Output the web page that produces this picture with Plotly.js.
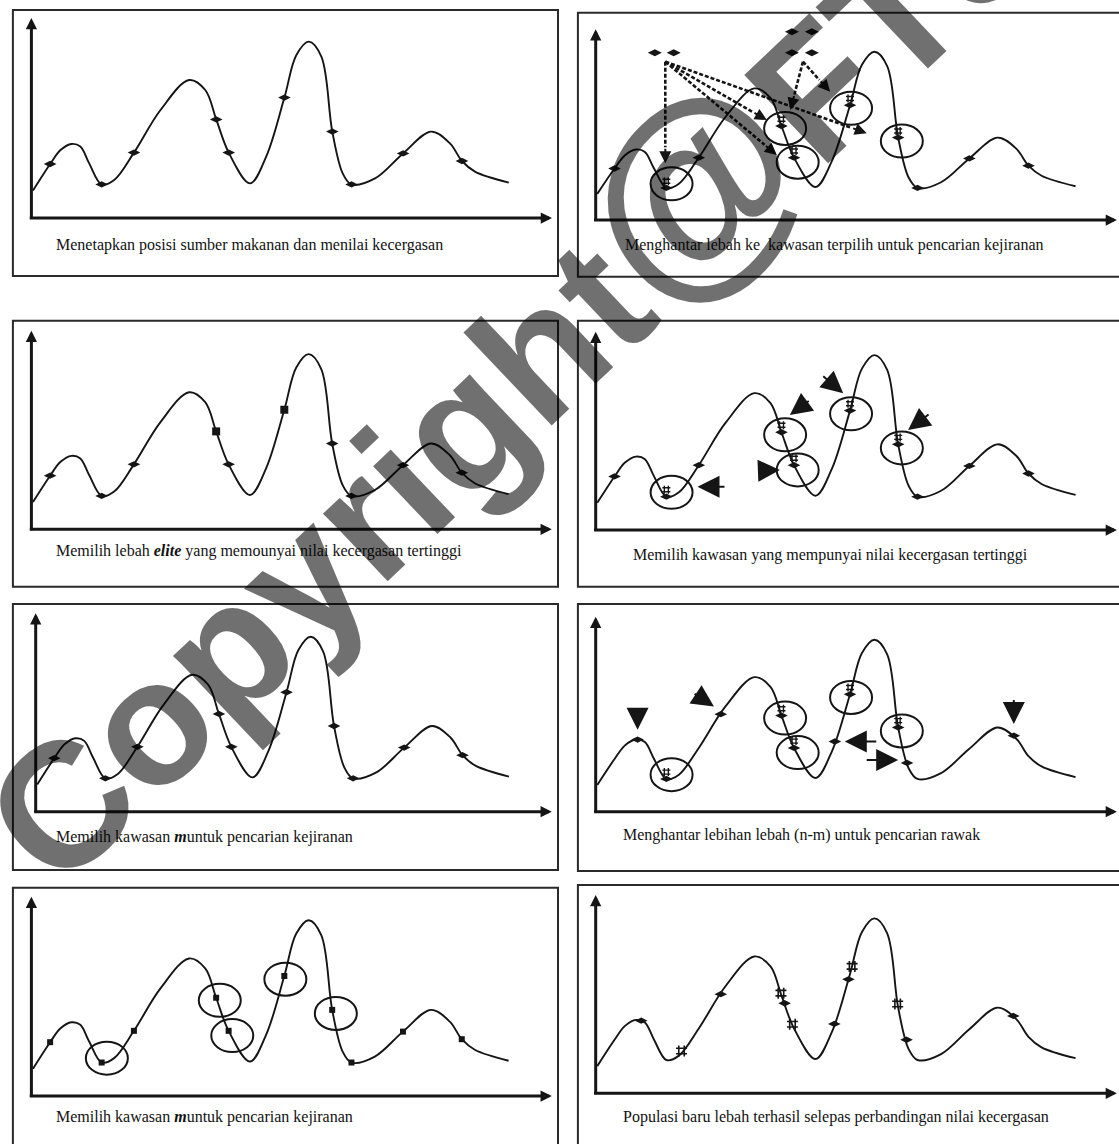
<!DOCTYPE html>
<html>
<head>
<meta charset="utf-8">
<script src="https://cdn.plot.ly/plotly-3.0.1.min.js"></script>
<style>html,body{margin:0;padding:0;background:#fff;}#chart{width:1119px;height:1144px;}</style>
</head>
<body>
<div id="chart"></div>
<script>
// ---------- data (axis units 0..100) ----------
const curveX = [0.3,3.6,5.6,7.7,9.4,11.1,13.5,15.9,19.7,24.8,30.3,33.4,35.5,37.9,42,45.1,48.6,50.9,53.3,55.7,57.8,59.8,61.5,66,71.4,76.8,80.4,82.7,85.2,91.7];
const curveY = [13.7,27,34,37,35.7,27.3,16.8,19,32.7,54,69,64,49.3,32.7,17.3,30.7,60.2,81.5,88.2,80.7,43.2,22.3,16.8,19.8,32.3,43.2,37.3,28.5,23.2,17.7];

const beeX = [3.6,13.5,19.7,35.5,37.9,48.6,57.8,61.5,71.4,82.7];
const beeY = [27,16.8,32.7,49.3,32.7,60.2,43.2,16.8,32.3,28.5];
const siteBees = [1,3,4,5,6];        // bees lying inside the selected sites
const eliteBees = [3,5];
const siteX = [14.5,36.2,38.6,48.8,58.5];
const siteY = [19,48,30.3,58.6,41.4];

const scoutX = [11.3,14.9,37.5,41.3,37.5,41.3];
const scoutY = [87.7,87.7,98.7,98.7,87.7,87.7];
const p2FromX = [13.3,13.3,13.3,13.3,39.6,39.6];
const p2FromY = [83,83,83,83,83,83];
const p2ToX = [13.3,32.7,34.6,51.8,37.2,44.8];
const p2ToY = [29.7,52.4,34.1,45.5,57.7,67.3];

const p4TipX = [19.45,37.1,35.2,47.3,59.7];
const p4TipY = [21.8,58.0,30.3,68.9,50.4];
const p4TailX = [24.9,41.0,31.3,43.2,63.9];
const p4TailY = [21.8,65.6,29.9,78.2,58.8];

const p6ScoutX = [8.0,23.9,45.7,59.5,79.9];
const p6ScoutY = [37,50,36,25,39];
const p6TipX = [8.0,22.6,47.6,57.8,79.9];
const p6TipY = [42,54,36,26.5,45];
const p6TailX = [8.0,18.6,53.9,51.5,79.9];
const p6TailY = [54,61,36,26.5,58];

const p8BeeX = [8.7,23.9,36.1,45.6,48.3,59.4,79.8];
const p8BeeY = [36.6,50,45.4,35,57.5,27,39];
const p8CrossX = [16.4,35.4,37.6,49.0,57.7];
const p8CrossY = [21.3,50.5,34.8,64,45];

const captions = [
  "Menetapkan posisi sumber makanan dan menilai kecergasan",
  "Menghantar lebah ke\u00a0 kawasan terpilih untuk pencarian kejiranan",
  "Memilih lebah <b><i>elite</i></b> yang memounyai nilai kecergasan tertinggi",
  "Memilih kawasan yang mempunyai nilai kecergasan tertinggi",
  "Memilih kawasan <b><i>m</i></b>untuk pencarian kejiranan",
  "Menghantar lebihan lebah (n-m) untuk pencarian rawak",
  "Memilih kawasan <b><i>m</i></b>untuk pencarian kejiranan",
  "Populasi baru lebah terhasil selepas perbandingan nilai kecergasan"
];
const watermarkText = "Copyright<span style=\"font-size:220px\">@</span>FTSM";

// ---------- layout geometry (pixels) ----------
const W = 1119, H = 1144;
const geo = [
  {x0:31.4, x1:552,  y0:218,   y1:18},
  {x0:595.7,x1:1119, y0:220,   y1:29.3},
  {x0:31.4, x1:551.8,y0:529.3, y1:330.7},
  {x0:595.7,x1:1119, y0:530,   y1:331.7},
  {x0:35.7, x1:551.8,y0:811.7, y1:613.3},
  {x0:595.7,x1:1119, y0:811.7, y1:616.7},
  {x0:31.4, x1:551.8,y0:1096,  y1:896.7},
  {x0:595.7,x1:1119, y0:1093.3,y1:895}
];
const boxes = [[12.9,10,558,276],[577.9,12.7,1135,276.7],[12.9,320.7,558,586.7],[577.9,320.7,1135,586.7],
               [12.9,604,558,870],[577.9,604,1135,871],[12.9,887.7,558,1160],[577.9,885,1135,1160]];
const capPos = [[53.6,245],[622.5,245],[53.6,550.5],[631.4,555],[53.6,837],[620.8,835],[53.6,1116.5],[620.7,1116.5]];

const INK = '#151515';
const layout = {width:W, height:H, margin:{l:0,r:0,t:0,b:0}, showlegend:false,
  paper_bgcolor:'#fff', plot_bgcolor:'rgba(0,0,0,0)', shapes:[], annotations:[]};
const traces = [];
const scale = [];

geo.forEach((g,i)=>{
  const id = i===0 ? '' : String(i+1);
  const xs = (g.x1-g.x0)/100, ys = (g.y0-g.y1)/100;
  scale.push({xs, ys});
  const pxL = g.x0-8, pxR = Math.min(g.x1+8, W), pyB = g.y0+8, pyT = Math.max(g.y1-8, 0);
  layout['xaxis'+id] = {domain:[pxL/W, pxR/W], range:[(pxL-g.x0)/xs, (pxR-g.x0)/xs], visible:false, fixedrange:true, anchor:'y'+id};
  layout['yaxis'+id] = {domain:[1-pyB/H, 1-pyT/H], range:[(g.y0-pyB)/ys, (g.y0-pyT)/ys], visible:false, fixedrange:true, anchor:'x'+id};
  const b = boxes[i];
  layout.shapes.push({type:'rect', xref:'paper', yref:'paper', x0:b[0]/W, x1:b[2]/W, y0:1-b[1]/H, y1:1-b[3]/H,
    line:{color:'#2a2a2a', width:2}, fillcolor:'rgba(0,0,0,0)'});
  const xr = 'x'+id, yr = 'y'+id;
  const tipX = g.x1 >= W ? 99.6 : 100;
  layout.annotations.push({xref:xr, yref:yr, axref:xr, ayref:yr, x:tipX, y:0, ax:-0.6, ay:0, text:'', showarrow:true,
    arrowhead:2, arrowsize:0.75, arrowwidth:3, arrowcolor:INK});
  layout.annotations.push({xref:xr, yref:yr, axref:xr, ayref:yr, x:0, y:100, ax:0, ay:-1.2, text:'', showarrow:true,
    arrowhead:2, arrowsize:0.75, arrowwidth:3, arrowcolor:INK});
  traces.push({x:curveX, y:curveY, xaxis:xr, yaxis:yr, mode:'lines', hoverinfo:'skip',
    line:{shape:'spline', smoothing:1, width:1.9, color:INK}});
  layout.annotations.push({xref:'paper', yref:'paper', x:capPos[i][0]/W, y:1-capPos[i][1]/H, xanchor:'left', yanchor:'middle',
    text:captions[i], showarrow:false, font:{family:'Liberation Serif, Times New Roman, serif', size:16, color:'#111'}});
});

const beeMarker = {symbol:'diamond-wide', size:9, color:INK};
const hashMarker = {symbol:'hash-open', size:8, color:INK, line:{color:INK, width:1.4}};
function ax(i){ const id = i===0?'':String(i+1); return {xaxis:'x'+id, yaxis:'y'+id, xr:'x'+id, yr:'y'+id}; }
function pts(i, xsArr, ysArr, marker){
  const a = ax(i);
  traces.push({x:xsArr, y:ysArr, xaxis:a.xaxis, yaxis:a.yaxis, mode:'markers', hoverinfo:'skip', marker:marker, cliponaxis:false});
}
function pick(arr, idx){ return idx.map(k=>arr[k]); }
const outside = beeX.map((_,k)=>k).filter(k=>siteBees.indexOf(k)<0);
const plain = beeX.map((_,k)=>k).filter(k=>eliteBees.indexOf(k)<0);

function circles(i){
  const a = ax(i), s = scale[i];
  const rx = 21/s.xs, ry = 16.5/s.ys;
  siteX.forEach((cx,k)=>{
    layout.shapes.push({type:'circle', xref:a.xr, yref:a.yr, x0:cx-rx, x1:cx+rx, y0:siteY[k]-ry, y1:siteY[k]+ry,
      line:{color:INK, width:2}});
  });
}
function siteMarks(i){
  pts(i, pick(beeX,siteBees), pick(beeY,siteBees), beeMarker);
  pts(i, pick(beeX,siteBees), pick(beeY,siteBees).map(v=>v+3.5), hashMarker);
}
function bigArrows(i, tx, ty, sx, sy){
  const a = ax(i);
  tx.forEach((x,k)=>{
    layout.annotations.push({xref:a.xr, yref:a.yr, axref:a.xr, ayref:a.yr, x:x, y:ty[k], ax:sx[k], ay:sy[k], text:'',
      showarrow:true, arrowhead:2, arrowsize:2.2, arrowwidth:2, arrowcolor:INK});
  });
}

// P1
pts(0, beeX, beeY, beeMarker);
// P2
circles(1);
pts(1, pick(beeX,outside), pick(beeY,outside), beeMarker);
siteMarks(1);
pts(1, scoutX, scoutY, {symbol:'diamond-wide', size:10, color:INK});
(function(){
  const a = ax(1), s = scale[1];
  p2ToX.forEach((tx,k)=>{
    const fx = p2FromX[k], fy = p2FromY[k], ty = p2ToY[k];
    const dxp = (tx-fx)*s.xs, dyp = (ty-fy)*s.ys, L = Math.hypot(dxp,dyp);
    const f = 16/L;
    const bx = tx-(tx-fx)*f, by = ty-(ty-fy)*f;
    layout.shapes.push({type:'line', xref:a.xr, yref:a.yr, x0:fx, y0:fy, x1:bx, y1:by, line:{color:INK, width:2.6, dash:'4px,2px'}});
    layout.annotations.push({xref:a.xr, yref:a.yr, axref:a.xr, ayref:a.yr, x:tx, y:ty, ax:bx, ay:by, text:'',
      showarrow:true, arrowhead:2, arrowsize:1.2, arrowwidth:2, arrowcolor:INK});
  });
})();
// P3
pts(2, pick(beeX,plain), pick(beeY,plain), beeMarker);
pts(2, pick(beeX,eliteBees), pick(beeY,eliteBees), {symbol:'square', size:8, color:INK});
// P4
circles(3);
pts(3, pick(beeX,outside), pick(beeY,outside), beeMarker);
siteMarks(3);
bigArrows(3, p4TipX, p4TipY, p4TailX, p4TailY);
// P5
pts(4, beeX, beeY, beeMarker);
// P6
circles(5);
siteMarks(5);
pts(5, p6ScoutX, p6ScoutY, beeMarker);
bigArrows(5, p6TipX, p6TipY, p6TailX, p6TailY);
// P7
circles(6);
pts(6, beeX, beeY, {symbol:'square', size:6, color:INK});
// P8
pts(7, p8BeeX, p8BeeY, beeMarker);
pts(7, p8CrossX, p8CrossY, {symbol:'hash-open', size:11, color:INK, line:{color:INK, width:1.6}});

// watermark on top
layout.annotations.push({xref:'paper', yref:'paper', x:561/W, y:1-312/H, xanchor:'center', yanchor:'middle',
  text:watermarkText, showarrow:false, textangle:-43.5,
  font:{family:'Liberation Sans, Arial, sans-serif', size:177, weight:'bold', color:'rgba(0,0,0,0.56)'}});

Plotly.newPlot('chart', traces, layout, {staticPlot:true, displayModeBar:false});
</script>
</body>
</html>
